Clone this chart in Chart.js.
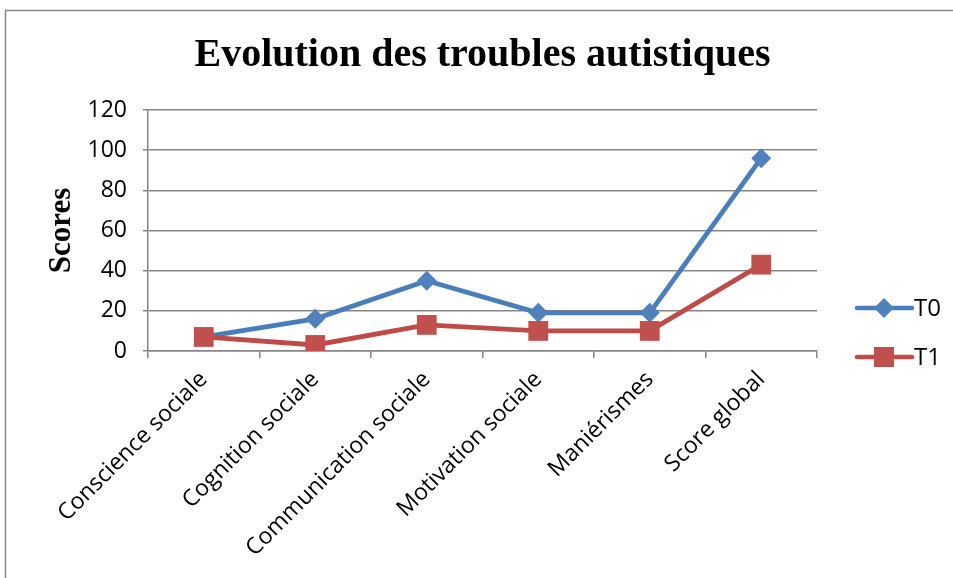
<!DOCTYPE html>
<html>
<head>
<meta charset="utf-8">
<script src="https://cdn.jsdelivr.net/npm/chart.js@4.4.1/dist/chart.umd.min.js"></script>
<style>
  html, body { margin: 0; padding: 0; background: #fff; }
  #wrap { width: 953px; height: 578px; }
</style>
</head>
<body>
<div id="wrap"><canvas id="troublesChart" width="953" height="578"></canvas></div>
<script>
const categories = ['Conscience sociale', 'Cognition sociale', 'Communication sociale', 'Motivation sociale', 'Maniérismes', 'Score global'];
const seriesT0 = [7, 16, 35, 19, 19, 96];
const seriesT1 = [7, 3, 13, 10, 10, 43];
const yTicks = [0, 20, 40, 60, 80, 100, 120];

const gridGray = '#868686';
const blue = '#4A7EBB';
const red = '#BE4B48';

// Excel-like frame around the chart
const framePlugin = {
    id: 'frame',
    beforeDraw: function(chart) {
        const ctx = chart.ctx;
        ctx.save();
        ctx.fillStyle = '#fff';
        ctx.fillRect(0, 0, chart.width, chart.height);
        ctx.strokeStyle = gridGray;
        ctx.lineWidth = 1.5;
        ctx.strokeRect(5.5, 10.5, 1200, 1200);
        ctx.restore();
    }
};

// legend with line + marker on the right
const sideLegend = {
    id: 'sideLegend',
    afterDraw: function(chart) {
        const ctx = chart.ctx;
        const x0 = chart.chartArea.right + 40;
        const rows = [308, 357];
        chart.data.datasets.forEach(function(ds, i) {
            const y = rows[i];
            ctx.save();
            ctx.strokeStyle = ds.borderColor;
            ctx.lineWidth = 4.5;
            ctx.lineCap = 'round';
            ctx.beginPath();
            ctx.moveTo(x0, y);
            ctx.lineTo(x0 + 55, y);
            ctx.stroke();
            ctx.fillStyle = ds.pointBackgroundColor;
            ctx.beginPath();
            const cx = x0 + 27;
            if (ds.pointStyle === 'rectRot') {
                ctx.moveTo(cx, y - 10);
                ctx.lineTo(cx + 10, y);
                ctx.lineTo(cx, y + 10);
                ctx.lineTo(cx - 10, y);
                ctx.closePath();
            } else {
                ctx.rect(cx - 10, y - 10, 20, 20);
            }
            ctx.fill();
            ctx.fillStyle = '#000';
            ctx.font = '24px "Open Sans"';
            ctx.textBaseline = 'middle';
            ctx.fillText(ds.label, x0 + 57, y + 1);
            ctx.restore();
        });
    }
};

const ctx = document.getElementById('troublesChart').getContext('2d');

new Chart(ctx, {
    type: 'line',
    data: {
        labels: categories,
        datasets: [{
            label: 'T0',
            data: seriesT0,
            borderColor: blue,
            backgroundColor: blue,
            pointBackgroundColor: '#4F81BD',
            pointBorderColor: blue,
            pointStyle: 'rectRot',
            pointRadius: 10,
            pointBorderWidth: 0,
            borderWidth: 4.8,
            tension: 0,
            order: 1
        }, {
            label: 'T1',
            data: seriesT1,
            borderColor: red,
            backgroundColor: red,
            pointBackgroundColor: '#C0504D',
            pointBorderColor: red,
            pointStyle: 'rect',
            pointRadius: 14,
            pointBorderWidth: 0,
            borderWidth: 4.8,
            tension: 0,
            order: 0
        }]
    },
    options: {
        responsive: false,
        animation: false,
        layout: {
            padding: { top: 0, left: 0, right: 136, bottom: 0 }
        },
        plugins: {
            legend: { display: false },
            tooltip: { enabled: false },
            title: {
                display: true,
                text: 'Evolution des troubles autistiques',
                fullSize: false,
                color: '#000',
                font: { family: '"Liberation Serif", "Times New Roman", serif', size: 40, weight: 'bold', lineHeight: 1.2 },
                padding: { top: 32, bottom: 30 }
            }
        },
        scales: {
            x: {
                type: 'category',
                offset: true,
                afterFit: function(scale) { scale.height = 227; },
                grid: {
                    offset: true,
                    drawOnChartArea: false,
                    drawTicks: true,
                    tickLength: 7,
                    color: gridGray,
                    lineWidth: 1.5
                },
                border: { color: gridGray, width: 1.5 },
                ticks: {
                    autoSkip: false,
                    minRotation: 45,
                    maxRotation: 45,
                    padding: 8,
                    color: '#000',
                    font: { family: '"Open Sans"', size: 23 }
                }
            },
            y: {
                min: 0,
                max: 120,
                afterFit: function(scale) { scale.width = 148; },
                afterBuildTicks: function(scale) {
                    scale.ticks = yTicks.map(function(v) { return { value: v }; });
                },
                grid: {
                    color: gridGray,
                    lineWidth: 1.5,
                    tickLength: 5
                },
                border: { color: gridGray, width: 1.5 },
                ticks: {
                    padding: 16,
                    color: '#000',
                    font: { family: '"Open Sans"', size: 23 }
                },
                title: {
                    display: true,
                    text: 'Scores',
                    color: '#000',
                    font: { family: '"Liberation Serif", "Times New Roman", serif', size: 31, weight: 'bold', lineHeight: 1.2 },
                    padding: { top: 43, bottom: 0 }
                }
            }
        }
    },
    plugins: [framePlugin, sideLegend]
});
</script>
</body>
</html>
